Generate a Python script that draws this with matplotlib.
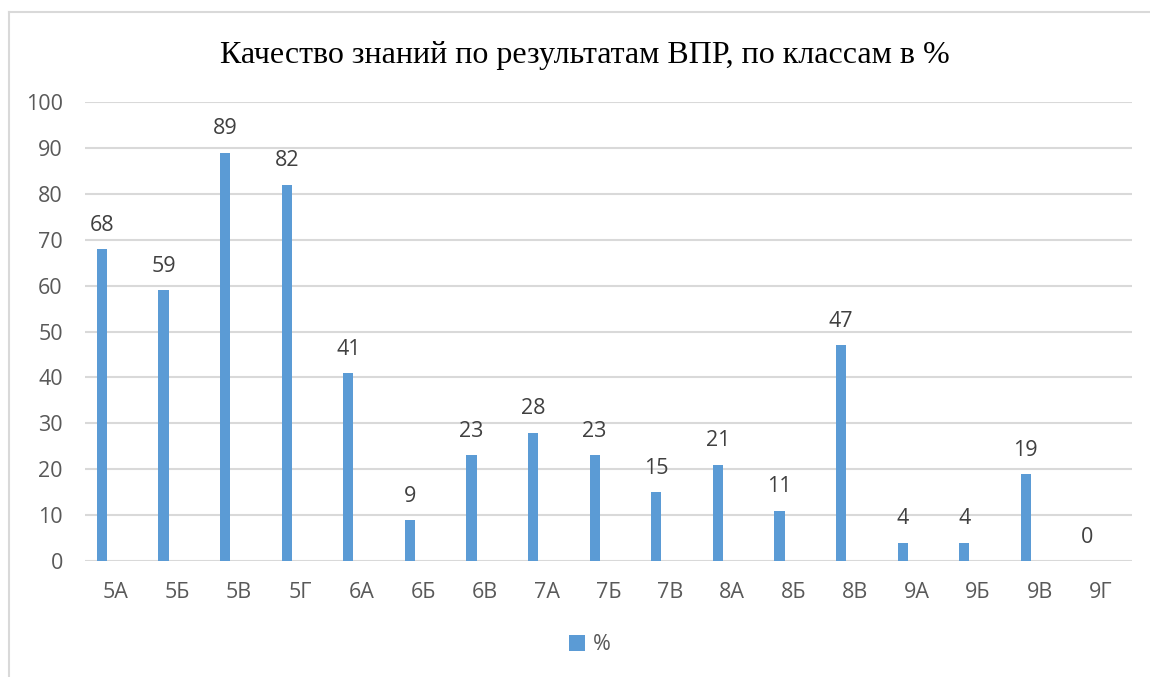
import matplotlib.pyplot as plt
import numpy as np
from matplotlib.lines import Line2D

# Data
classes = ['5А', '5Б', '5В', '5Г', '6А', '6Б', '6В', '7А', '7Б', '7В',
           '8А', '8Б', '8В', '9А', '9Б', '9В', '9Г']
percent = [68, 59, 89, 82, 41, 9, 23, 28, 23, 15, 21, 11, 47, 4, 4, 19, 0]

plt.rcParams['font.family'] = ['Open Sans', 'DejaVu Sans']

fig = plt.figure(figsize=(11.5, 6.77), dpi=100)
ax = fig.add_axes([0.0739, 0.1713, 0.9104, 0.678])

x = np.arange(len(classes))
offset = -0.224
ax.bar(x + offset, percent, width=0.165, color='#5b9bd5', label='%', zorder=3)

for xi, v in zip(x, percent):
    ax.annotate(str(v), (xi + offset, v), xytext=(0, 9.5), textcoords='offset points',
                ha='center', va='bottom', fontsize=15.5, color='#404040')

ax.set_xlim(-0.5, len(classes) - 0.5)
ax.set_ylim(0, 100)
ax.set_yticks(np.arange(0, 101, 10))
ax.set_xticks(x)
ax.set_xticklabels(classes)
ax.tick_params(axis='both', length=0, labelsize=15.5, colors='#595959')
ax.tick_params(axis='y', pad=16)
ax.tick_params(axis='x', pad=15)
ax.grid(axis='y', color='#d9d9d9', linewidth=1.5, zorder=0)
for s in ax.spines.values():
    s.set_visible(False)

fig.suptitle('Качество знаний по результатам ВПР, по классам в %',
             fontsize=23, family='Liberation Serif', color='black', x=0.509, y=0.94)

ax.legend(loc='center', frameon=False, fontsize=15.5, handlelength=0.75, handleheight=0.75,
          handletextpad=0.35, labelcolor='#595959')
leg = ax.get_legend()
leg.set_bbox_to_anchor((590 / 1150, 1 - 645 / 677), transform=fig.transFigure)

# chart frame (top and left edges visible)
fig.add_artist(Line2D([9 / 1150, 9 / 1150], [0, 1 - 12 / 677], transform=fig.transFigure,
                      color='#d9d9d9', linewidth=1.5))
fig.add_artist(Line2D([9 / 1150, 1], [1 - 12 / 677, 1 - 12 / 677], transform=fig.transFigure,
                      color='#d9d9d9', linewidth=1.5))

fig.savefig('out.png', dpi=100)
